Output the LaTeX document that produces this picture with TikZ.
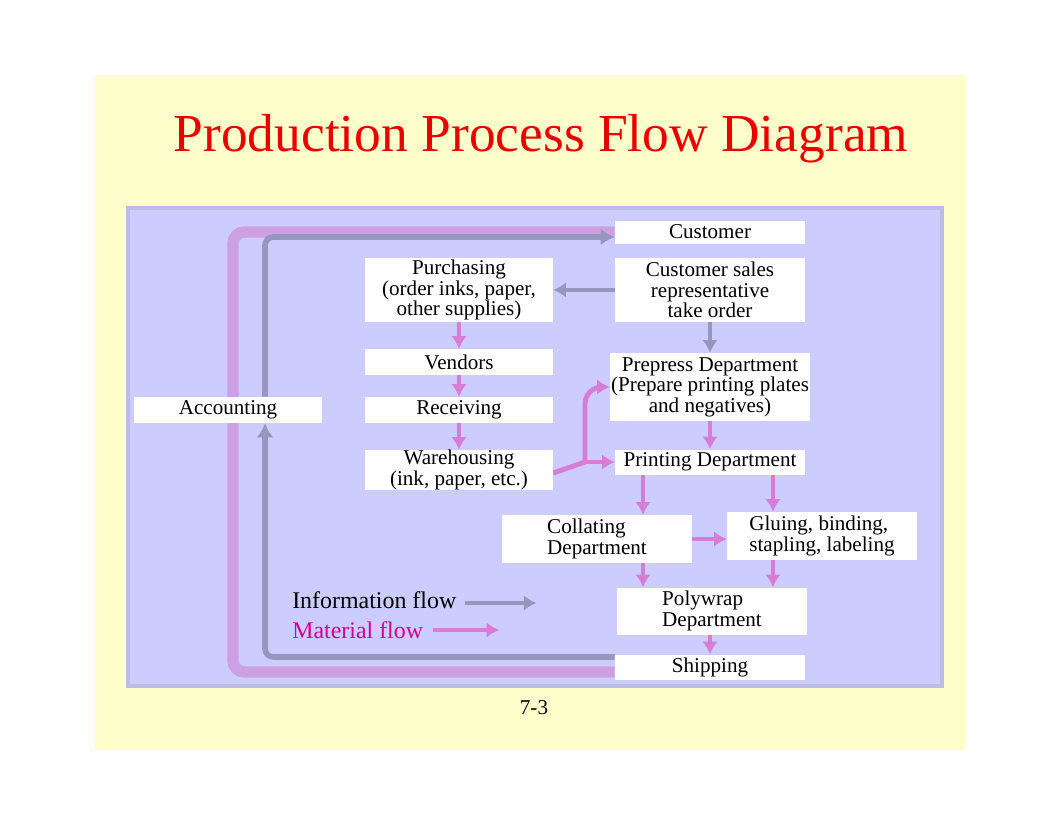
\documentclass[tikz,border=0pt]{standalone}
\usepackage{fontspec}
\setmainfont{Liberation Serif}
\usetikzlibrary{arrows.meta,calc}
\definecolor{bgyellow}{RGB}{255,255,204}
\definecolor{panelfill}{RGB}{204,204,255}
\definecolor{paneledge}{RGB}{188,188,228}
\definecolor{titlered}{RGB}{235,0,0}
\definecolor{matpink}{RGB}{210,0,150}
\definecolor{infogray}{RGB}{150,150,190}
\definecolor{matarrow}{RGB}{215,125,215}
\definecolor{matloopc}{RGB}{205,160,228}
\pgfdeclarelayer{back}
\pgfdeclarelayer{conn}
\pgfsetlayers{back,conn,main}
\tikzset{
  box/.style={fill=white, inner sep=0pt, align=center, font=\fontsize{15}{14.5}\selectfont},
  info/.style={draw=infogray, line width=3pt, -{Latex[length=9pt,width=11pt]}},
  mat/.style={draw=matarrow, line width=3.5pt, -{Latex[length=9pt,width=11pt]}},
  infoloop/.style={draw=infogray, line width=4pt, rounded corners=6pt, -{Latex[length=10pt,width=12pt]}},
  matloopline/.style={draw=matloopc, line width=8pt, rounded corners=8pt},
  legendtext/.style={anchor=west, inner sep=0pt, font=\fontsize{17}{18}\selectfont},
}
\begin{document}
\begin{tikzpicture}[x=0.025cm, y=-0.025cm]
\useasboundingbox (0,0) rectangle (1062,822);
\begin{pgfonlayer}{back}
  \fill[white] (0,0) rectangle (1062,822);
  \fill[bgyellow] (95,75) rectangle (965,750);
  \filldraw[fill=panelfill, draw=paneledge, line width=3pt] (128,208) rectangle (942,686);
\end{pgfonlayer}

\node[font=\fontsize{38}{40}\selectfont, text=titlered, inner sep=0pt] (title) at (541,139) {Production Process Flow Diagram};

\node[box, minimum width=4.75cm, minimum height=0.575cm] (cu) at (710,232) {Customer};
\node[box, minimum width=4.75cm, minimum height=1.6cm] (cs) at (710,290) {Customer sales\\representative\\take order};
\node[box, minimum width=4.7cm, minimum height=1.575cm] (pu) at (459,290) {Purchasing\\(order inks, paper,\\other supplies)};
\node[box, minimum width=4.7cm, minimum height=0.65cm] (ve) at (459,362) {Vendors};
\node[box, minimum width=4.675cm, minimum height=0.65cm] (ac) at (228,410) {Accounting};
\node[box, minimum width=4.7cm, minimum height=0.65cm] (re) at (459,410) {Receiving};
\node[box, minimum width=5cm, minimum height=1.7cm] (pp) at (710,387) {Prepress Department\\(Prepare printing plates\\and negatives)};
\node[box, minimum width=4.7cm, minimum height=1cm] (wh) at (459,470) {Warehousing\\(ink, paper, etc.)};
\node[box, minimum width=4.75cm, minimum height=0.625cm] (pr) at (710,462) {Printing Department};
\node[box, align=left, minimum width=4.75cm, minimum height=1.2cm] (co) at (597,539) {Collating\\Department};
\node[box, align=left, minimum width=4.75cm, minimum height=1.2cm] (gl) at (822,536) {Gluing, binding,\\stapling, labeling};
\node[box, align=left, minimum width=4.75cm, minimum height=1.175cm] (po) at (712,611) {Polywrap\\Department};
\node[box, minimum width=4.75cm, minimum height=0.625cm] (sh) at (710,667) {Shipping};

\node[legendtext] (linf) at (292,600) {Information flow};
\node[legendtext, text=matpink] (lmat) at (292,630) {Material flow};

\node[inner sep=0pt, font=\fontsize{15}{16}\selectfont] (pg) at (534,708) {7-3};

\coordinate (xg) at (265,0);
\coordinate (xm) at (233,0);
\coordinate (xa) at (643,0);
\coordinate (xb) at (773,0);
\coordinate (bj) at (585,462);

\begin{pgfonlayer}{conn}
  % big loops
  \draw[matloopline] ($(sh.west)+(0,5)$) -| (xm |- cu.west) -- (cu.west);
  \draw[infoloop] ($(sh.west)+(0,-10)$) -| (ac.south -| xg);
  \draw[infoloop] (ac.north -| xg) |- ($(cu.west)+(0,5)$);
  % information flow
  \draw[info] (cs.west) -- (pu.east);
  \draw[info] (cs.south) -- (pp.north);
  % material flow
  \draw[mat] (pu.south) -- (ve.north);
  \draw[mat] (ve.south) -- (re.north);
  \draw[mat] (re.south) -- (wh.north);
  \draw[draw=matarrow, line width=3.5pt] ($(wh.east)+(0,3)$) -- (bj);
  \draw[mat, rounded corners=12pt] (bj) |- (pp.west);
  \draw[mat] (bj) -- (pr.west);
  \draw[mat] (pp.south) -- (pr.north);
  \draw[mat] (pr.south -| xa) -- (co.north -| xa);
  \draw[mat] (pr.south -| xb) -- (gl.north -| xb);
  \draw[mat] (co.east) -- (gl.west |- co.east);
  \draw[mat] (co.south -| xa) -- (po.north -| xa);
  \draw[mat] (gl.south -| xb) -- (po.north -| xb);
  \draw[mat] (po.south -| sh.north) -- (sh.north);
  % legend
  \draw[info] ($(linf.east)+(8,3)$) -- ++(72,0);
  \draw[mat] ($(lmat.east)+(10,0)$) -- ++(66,0);
\end{pgfonlayer}
\end{tikzpicture}
\end{document}
